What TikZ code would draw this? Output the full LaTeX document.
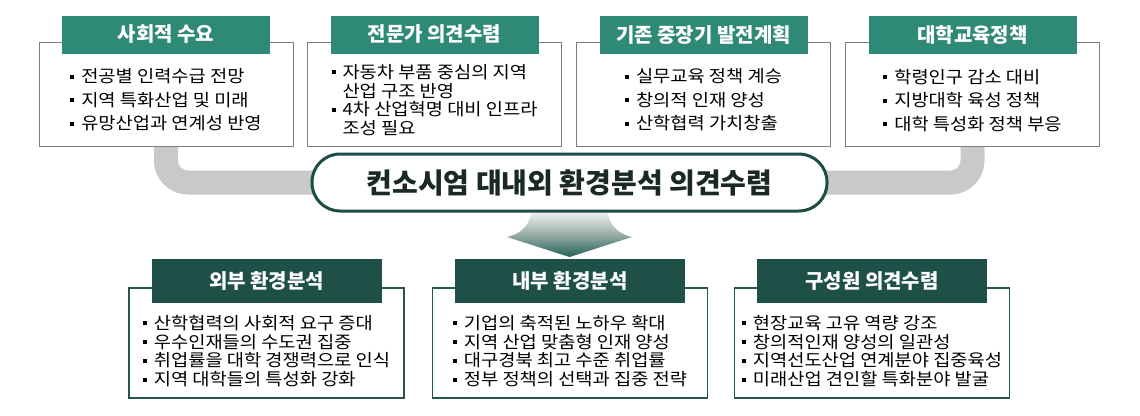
\documentclass[tikz,border=0pt]{standalone}
\usepackage{fontspec}
\setmainfont{Noto Sans CJK KR}
\newfontfamily\bodyfont[FakeStretch=1.1]{Noto Sans CJK KR}
\usepackage{tikz}
\usetikzlibrary{positioning,calc,backgrounds}
\definecolor{tealtab}{RGB}{46,138,119}
\definecolor{darktab}{RGB}{30,80,72}
\definecolor{framegray}{RGB}{125,125,125}
\definecolor{framedark}{RGB}{36,86,78}
\definecolor{hubline}{RGB}{28,76,68}
\definecolor{hubtext}{RGB}{26,40,38}
\definecolor{bandgray}{RGB}{201,201,201}
\definecolor{arrowtop}{RGB}{236,238,237}
\definecolor{arrowmid}{RGB}{150,170,165}
\definecolor{arrowbot}{RGB}{38,98,86}
\newcommand{\bul}{\rule[4pt]{4pt}{4pt}\hspace{7pt}}

\begin{document}
\begin{tikzpicture}[x=1pt,y=-1pt,
            topframe/.style={draw=framegray, line width=1pt, fill=white, minimum width=254pt, minimum height=104pt, inner sep=0pt},
            toptab/.style={fill=tealtab, minimum width=208pt, minimum height=38pt, inner sep=0pt, text=white, font=\fontsize{20}{22}\selectfont\bfseries},
            botframe/.style={draw=framedark, line width=1.2pt, fill=white, minimum width=275pt, minimum height=110pt, inner sep=0pt},
            bottab/.style={fill=darktab, minimum width=230pt, minimum height=44pt, inner sep=0pt, text=white, font=\fontsize{20}{22}\selectfont\bfseries},
            itemlist/.style={align=left, inner sep=0pt, text=black, font=\bodyfont\fontsize{17}{23.5}\selectfont},
            tightlist/.style={itemlist, font=\bodyfont\fontsize{17}{18.7}\selectfont},
            hub/.style={draw=hubline, line width=3pt, fill=white, rounded corners=28pt, minimum width=515pt, minimum height=57pt, text=hubtext, font=\fontsize{28}{32}\selectfont\bfseries},
            band/.style={draw=bandgray, line width=24pt, rounded corners=22pt}
        ]
        \useasboundingbox (0,0) rectangle (1140,415);

        % Top row
        \node[topframe] (f1) at (166,94) {};
        \node[topframe] (f2) at (434.5,94) {};
        \node[topframe] (f3) at (703.5,94) {};
        \node[topframe] (f4) at (972.5,94) {};
        \node[toptab] (t1) at ([yshift=7pt]f1.north) {사회적 수요};
        \node[toptab] (t2) at ([yshift=7pt]f2.north) {전문가 의견수렴};
        \node[toptab] (t3) at ([yshift=7pt]f3.north) {기존 중장기 발전계획};
        \node[toptab] (t4) at ([yshift=7pt]f4.north) {대학교육정책};
        \node[itemlist] (l1) at ($(t1.south)!0.5!(f1.south)$) {\bul 전공별 인력수급 전망\\\bul 지역 특화산업 및 미래\\\bul 유망산업과 연계성 반영};
        \node[tightlist] (l2) at ($(t2.south)!0.5!(f2.south)$) {\bul 자동차 부품 중심의 지역\\\hphantom{\bul}산업 구조 반영\\\bul 4차 산업혁명 대비 인프라\\\hphantom{\bul}조성 필요};
        \node[itemlist] (l3) at ($(t3.south)!0.5!(f3.south)$) {\bul 실무교육 정책 계승\\\bul 창의적 인재 양성\\\bul 산학협력 가치창출};
        \node[itemlist] (l4) at ($(t4.south)!0.5!(f4.south)$) {\bul 학령인구 감소 대비\\\bul 지방대학 육성 정책\\\bul 대학 특성화 정책 부응};

        % Middle
        \node[hub] (hub) at (569.5,182.5) {컨소시엄 대내외 환경분석 의견수렴};
        \begin{scope}[on background layer]
            \fill[white] (0,0) rectangle (1140,415);
            \draw[band] (f1.south) |- (hub.center);
            \draw[band] (f4.south) |- (hub.center);
        \end{scope}
        \shade[top color=arrowtop, bottom color=arrowbot, middle color=arrowmid]
            (531,213) .. controls (529,229) and (516,235) .. (507,237) -- (569.5,257)
            -- (632,237) .. controls (623,235) and (610,229) .. (608,213) -- cycle;

        % Bottom row
        \node[botframe] (g1) at (266.5,343) {};
        \node[botframe] (g2) at (570,343) {};
        \node[botframe] (g3) at (872,343) {};
        \node[bottab] (s1) at ([yshift=6pt]g1.north) {외부 환경분석};
        \node[bottab] (s2) at ([yshift=6pt]g2.north) {내부 환경분석};
        \node[bottab] (s3) at ([yshift=6pt]g3.north) {구성원 의견수렴};
        \node[tightlist] (m1) at ($(s1.south)!0.5!(g1.south)$) {\bul 산학협력의 사회적 요구 증대\\\bul 우수인재들의 수도권 집중\\\bul 취업률을 대학 경쟁력으로 인식\\\bul 지역 대학들의 특성화 강화};
        \node[tightlist] (m2) at ($(s2.south)!0.5!(g2.south)$) {\bul 기업의 축적된 노하우 확대\\\bul 지역 산업 맞춤형 인재 양성\\\bul 대구경북 최고 수준 취업률\\\bul 정부 정책의 선택과 집중 전략};
        \node[tightlist] (m3) at ($(s3.south)!0.5!(g3.south)$) {\bul 현장교육 고유 역량 강조\\\bul 창의적인재 양성의 일관성\\\bul 지역선도산업 연계분야 집중육성\\\bul 미래산업 견인할 특화분야 발굴};

        \end{tikzpicture}
\end{document}
